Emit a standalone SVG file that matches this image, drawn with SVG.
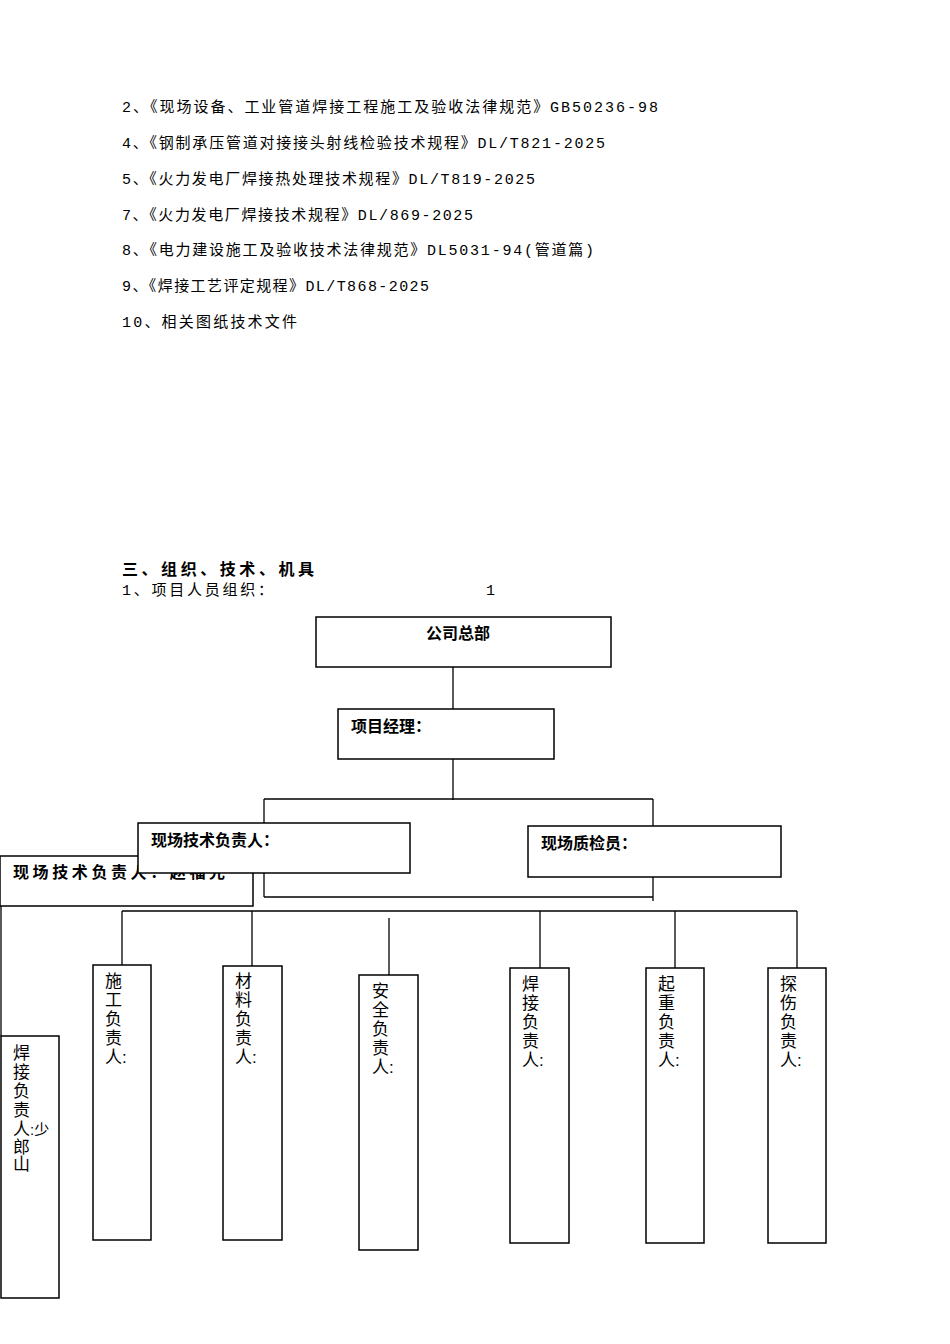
<svg xmlns="http://www.w3.org/2000/svg" width="950" height="1344" viewBox="0 0 950 1344">
<style>
.t{font-family:"Liberation Mono","Noto Sans CJK SC",monospace;font-size:15px;fill:#000}
.b{font-family:"Liberation Sans","Noto Sans CJK SC",sans-serif;font-size:16px;font-weight:bold;fill:#000}
.v{font-family:"Liberation Sans","Noto Sans CJK SC",sans-serif;font-size:17px;fill:#000}
rect{fill:#fff;stroke:#000;stroke-width:1.5}
line{stroke:#000;stroke-width:1.3}
</style>
<rect x="0" y="0" width="950" height="1344" style="stroke:none"/>
<g id="refs">
<text class="t" x="122" y="112" textLength="536" lengthAdjust="spacing">2、《现场设备、工业管道焊接工程施工及验收法律规范》GB50236-98</text>
<text class="t" x="122" y="148" textLength="483" lengthAdjust="spacing">4、《钢制承压管道对接接头射线检验技术规程》DL/T821-2025</text>
<text class="t" x="122" y="184" textLength="413" lengthAdjust="spacing">5、《火力发电厂焊接热处理技术规程》DL/T819-2025</text>
<text class="t" x="122" y="220" textLength="351" lengthAdjust="spacing">7、《火力发电厂焊接技术规程》DL/869-2025</text>
<text class="t" x="122" y="255" textLength="472" lengthAdjust="spacing">8、《电力建设施工及验收技术法律规范》DL5031-94(管道篇)</text>
<text class="t" x="122" y="291" textLength="307" lengthAdjust="spacing">9、《焊接工艺评定规程》DL/T868-2025</text>
<text class="t" x="122" y="327" textLength="175" lengthAdjust="spacing">10、相关图纸技术文件</text>
<text class="b" x="122" y="575" font-size="17" textLength="192" lengthAdjust="spacing">三、组织、技术、机具</text>
<text class="t" x="122" y="595" textLength="151" lengthAdjust="spacing">1、项目人员组织：</text>
<text class="t" x="486" y="595">1</text>
</g>
<g id="connectors">
<line x1="453" y1="667" x2="453" y2="709"/>
<line x1="453" y1="759" x2="453" y2="800"/>
<line x1="264" y1="799" x2="653" y2="799"/>
<line x1="264" y1="799" x2="264" y2="823"/>
<line x1="653" y1="799" x2="653" y2="826"/>
<line x1="264" y1="873" x2="264" y2="897"/>
<line x1="264" y1="897" x2="653" y2="897"/>
<line x1="653" y1="877" x2="653" y2="901"/>
<line x1="122" y1="911" x2="797" y2="911"/>
<line x1="122" y1="911" x2="122" y2="965"/>
<line x1="252" y1="911" x2="252" y2="966"/>
<line x1="389" y1="918" x2="389" y2="975"/>
<line x1="540" y1="911" x2="540" y2="968"/>
<line x1="675" y1="911" x2="675" y2="968"/>
<line x1="797" y1="911" x2="797" y2="968"/>
<line x1="1" y1="906" x2="1" y2="1036"/>
</g>
<g id="hq"><rect x="316" y="617" width="295" height="50"/><text class="b" x="426" y="639">公司总部</text></g>
<g id="pm"><rect x="338" y="709" width="216" height="50"/><text class="b" x="351" y="732">项目经理：</text></g>
<g id="tech2"><rect x="0" y="856" width="253" height="50"/><text class="b" x="13" y="878" textLength="212" lengthAdjust="spacing">现场技术负责人：赵福光</text></g>
<g id="tech"><rect x="138" y="823" width="272" height="50"/><text class="b" x="151" y="846">现场技术负责人：</text></g>
<g id="qc"><rect x="528" y="826" width="253" height="51"/><text class="b" x="541" y="849">现场质检员：</text></g>
<g id="weld2"><rect x="1" y="1036" width="58" height="262"/>
<text class="v" x="13" y="1059">焊</text><text class="v" x="13" y="1078">接</text><text class="v" x="13" y="1097">负</text><text class="v" x="13" y="1116">责</text><text class="v" x="13" y="1135">人<tspan font-size="15">:少</tspan></text><text class="v" x="13" y="1153" font-size="15">郎</text><text class="v" x="13" y="1170" font-size="15">山</text></g>
<g id="sg"><rect x="93" y="965" width="58" height="275"/><text class="v" x="105" y="987">施</text><text class="v" x="105" y="1006">工</text><text class="v" x="105" y="1025">负</text><text class="v" x="105" y="1044">责</text><text class="v" x="105" y="1063">人:</text></g>
<g id="cl"><rect x="223" y="966" width="59" height="274"/><text class="v" x="235" y="987">材</text><text class="v" x="235" y="1006">料</text><text class="v" x="235" y="1025">负</text><text class="v" x="235" y="1044">责</text><text class="v" x="235" y="1063">人:</text></g>
<g id="aq"><rect x="359" y="975" width="59" height="275"/><text class="v" x="372" y="997">安</text><text class="v" x="372" y="1016">全</text><text class="v" x="372" y="1035">负</text><text class="v" x="372" y="1054">责</text><text class="v" x="372" y="1073">人:</text></g>
<g id="hj"><rect x="510" y="968" width="59" height="275"/><text class="v" x="522" y="990">焊</text><text class="v" x="522" y="1009">接</text><text class="v" x="522" y="1028">负</text><text class="v" x="522" y="1047">责</text><text class="v" x="522" y="1066">人:</text></g>
<g id="qz"><rect x="646" y="968" width="58" height="275"/><text class="v" x="658" y="990">起</text><text class="v" x="658" y="1009">重</text><text class="v" x="658" y="1028">负</text><text class="v" x="658" y="1047">责</text><text class="v" x="658" y="1066">人:</text></g>
<g id="ts"><rect x="768" y="968" width="58" height="275"/><text class="v" x="780" y="990">探</text><text class="v" x="780" y="1009">伤</text><text class="v" x="780" y="1028">负</text><text class="v" x="780" y="1047">责</text><text class="v" x="780" y="1066">人:</text></g>
</svg>
